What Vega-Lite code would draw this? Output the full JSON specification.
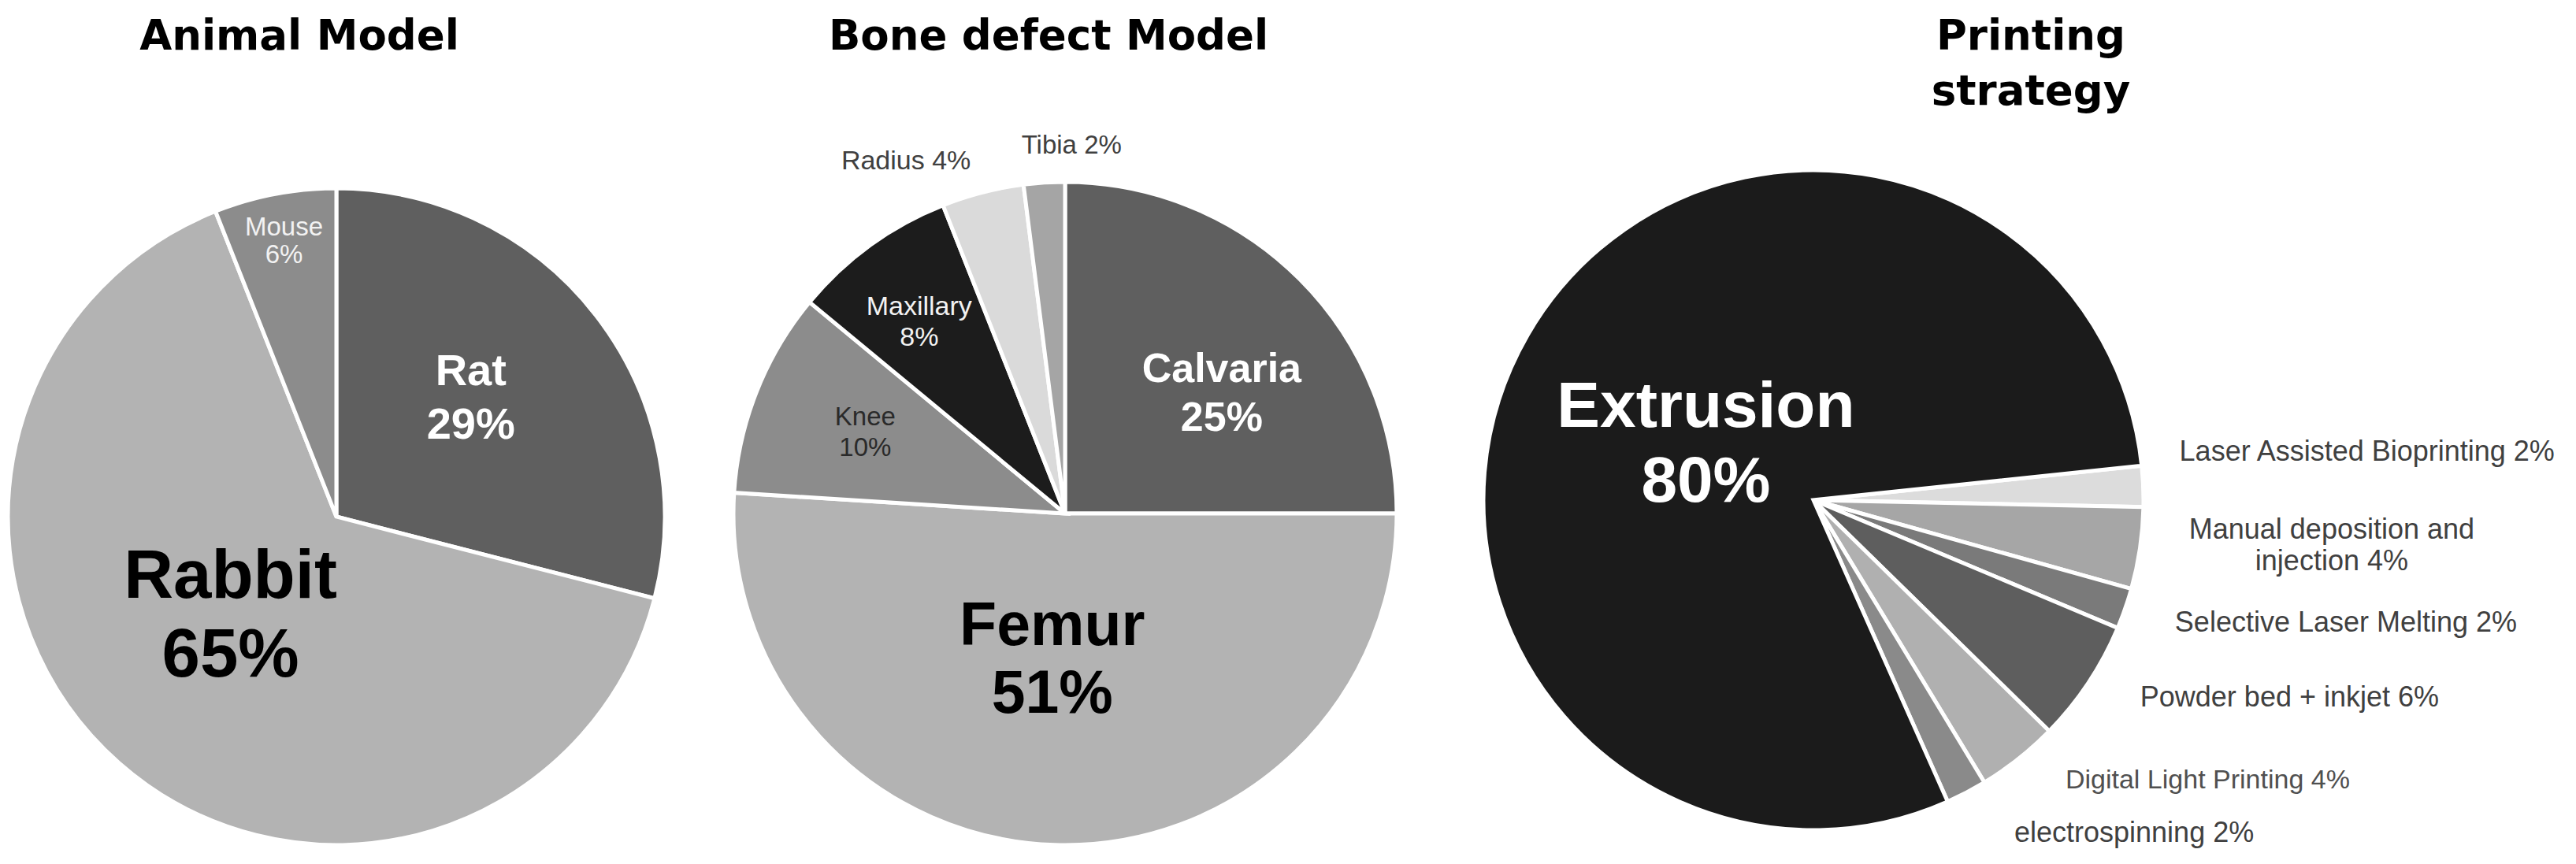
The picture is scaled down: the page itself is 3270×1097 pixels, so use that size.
{
  "$schema": "https://vega.github.io/schema/vega-lite/v6.json",
  "background": "white",
  "padding": {"top": 21, "left": 0, "right": 0, "bottom": 0},
  "spacing": 0,
  "bounds": "flush",
  "config": {"view": {"stroke": null}, "font": "Liberation Sans"},
  "resolve": {"scale": {"color": "independent", "theta": "independent"}},
  "hconcat": [
    {
      "width": 850, "height": 1008,
      "title": {"text": ["Animal Model", " "], "fontSize": 53, "font": "DejaVu Sans", "fontWeight": "bold", "color": "black", "anchor": "middle", "frame": "group", "dx": -47, "lineHeight": 70, "baseline": "alphabetic", "offset": -34},
      "data": {"values": [
        {"name": "Rat", "pct": 29, "ord": 1, "lab": "Rat\n29%"},
        {"name": "Rabbit", "pct": 65, "ord": 2, "lab": "Rabbit\n65%"},
        {"name": "Mouse", "pct": 6, "ord": 3, "lab": "Mouse\n6%"}
      ]},
      "encoding": {
        "theta": {"field": "pct", "type": "quantitative", "stack": true},
        "order": {"field": "ord", "type": "quantitative"}
      },
      "layer": [
        {"mark": {"type": "arc", "outerRadius": 417, "stroke": "white", "strokeWidth": 5},
         "encoding": {"color": {"field": "name", "type": "nominal", "legend": null,
           "scale": {"domain": ["Rat", "Rabbit", "Mouse"], "range": ["#5f5f5f", "#b3b3b3", "#8c8c8c"]}}}},
        {"mark": {"type": "text", "radius": 230, "dx": -11, "dy": -26, "fontSize": 56, "fontWeight": "bold", "color": "white", "align": "center", "baseline": "alphabetic", "lineBreak": "\n", "lineHeight": 68},
         "encoding": {"text": {"condition": {"test": "datum.name === 'Rat'", "field": "lab"}, "value": ""}}},
        {"mark": {"type": "text", "radius": 170, "dx": -22, "dy": -25, "fontSize": 87, "fontWeight": "bold", "color": "black", "align": "center", "baseline": "alphabetic", "lineBreak": "\n", "lineHeight": 100},
         "encoding": {"text": {"condition": {"test": "datum.name === 'Rabbit'", "field": "lab"}, "value": ""}}},
        {"mark": {"type": "text", "radius": 360, "dx": 1, "dy": -3, "fontSize": 33, "color": "#f2f2f2", "align": "center", "baseline": "alphabetic", "lineBreak": "\n", "lineHeight": 35},
         "encoding": {"text": {"condition": {"test": "datum.name === 'Mouse'", "field": "lab"}, "value": ""}}}
      ]
    },
    {
      "width": 1000, "height": 1000,
      "title": {"text": ["Bone defect Model", " "], "fontSize": 53, "font": "DejaVu Sans", "fontWeight": "bold", "color": "black", "anchor": "middle", "frame": "group", "dx": -21, "lineHeight": 70, "baseline": "alphabetic", "offset": -34},
      "data": {"values": [
        {"name": "Calvaria", "pct": 25, "ord": 1, "lab": "Calvaria\n25%"},
        {"name": "Femur", "pct": 51, "ord": 2, "lab": "Femur\n51%"},
        {"name": "Knee", "pct": 10, "ord": 3, "lab": "Knee\n10%"},
        {"name": "Maxillary", "pct": 8, "ord": 4, "lab": "Maxillary\n8%"},
        {"name": "Radius", "pct": 4, "ord": 5, "lab": "Radius 4%"},
        {"name": "Tibia", "pct": 2, "ord": 6, "lab": "Tibia 2%"}
      ]},
      "encoding": {
        "theta": {"field": "pct", "type": "quantitative", "stack": true},
        "order": {"field": "ord", "type": "quantitative"}
      },
      "layer": [
        {"mark": {"type": "arc", "outerRadius": 421, "stroke": "white", "strokeWidth": 5},
         "encoding": {"color": {"field": "name", "type": "nominal", "legend": null,
           "scale": {"domain": ["Calvaria", "Femur", "Knee", "Maxillary", "Radius", "Tibia"], "range": ["#5f5f5f", "#b3b3b3", "#8c8c8c", "#1c1c1c", "#dadada", "#a5a5a5"]}}}},
        {"mark": {"type": "text", "radius": 260, "dx": 15, "dy": 17, "fontSize": 52, "fontWeight": "bold", "color": "white", "align": "center", "baseline": "alphabetic", "lineBreak": "\n", "lineHeight": 62},
         "encoding": {"text": {"condition": {"test": "datum.name === 'Calvaria'", "field": "lab"}, "value": ""}}},
        {"mark": {"type": "text", "radius": 167, "dx": -11, "dy": 0, "fontSize": 77, "fontWeight": "bold", "color": "black", "align": "center", "baseline": "alphabetic", "lineBreak": "\n", "lineHeight": 86},
         "encoding": {"text": {"condition": {"test": "datum.name === 'Femur'", "field": "lab"}, "value": ""}}},
        {"mark": {"type": "text", "radius": 275, "dx": 2, "dy": -11, "fontSize": 33, "color": "#2a2a2a", "align": "center", "baseline": "alphabetic", "lineBreak": "\n", "lineHeight": 39},
         "encoding": {"text": {"condition": {"test": "datum.name === 'Knee'", "field": "lab"}, "value": ""}}},
        {"mark": {"type": "text", "radius": 310, "dx": -3, "dy": -1, "fontSize": 34, "color": "#f2f2f2", "align": "center", "baseline": "alphabetic", "lineBreak": "\n", "lineHeight": 39},
         "encoding": {"text": {"condition": {"test": "datum.name === 'Maxillary'", "field": "lab"}, "value": ""}}},
        {"mark": {"type": "text", "radius": 450, "dx": -90, "dy": -1, "fontSize": 34, "color": "#404040", "align": "center", "baseline": "alphabetic"},
         "encoding": {"text": {"condition": {"test": "datum.name === 'Radius'", "field": "lab"}, "value": ""}}},
        {"mark": {"type": "text", "radius": 458, "dx": 37, "dy": 0, "fontSize": 33, "color": "#404040", "align": "center", "baseline": "alphabetic"},
         "encoding": {"text": {"condition": {"test": "datum.name === 'Tibia'", "field": "lab"}, "value": ""}}}
      ]
    },
    {
      "width": 900, "height": 966,
      "title": {"text": ["Printing", "strategy"], "fontSize": 53, "font": "DejaVu Sans", "fontWeight": "bold", "color": "black", "anchor": "middle", "frame": "group", "dx": 276, "lineHeight": 70, "baseline": "alphabetic", "offset": -34},
      "data": {"values": [
        {"name": "Laser", "pct": 2, "ord": 1, "lab": "Laser Assisted Bioprinting 2%"},
        {"name": "Manual", "pct": 4, "ord": 2, "lab": "Manual  deposition and\ninjection 4%"},
        {"name": "Selective", "pct": 2, "ord": 3, "lab": "Selective Laser Melting 2%"},
        {"name": "Powder", "pct": 6, "ord": 4, "lab": "Powder bed + inkjet 6%"},
        {"name": "Digital", "pct": 4, "ord": 5, "lab": "Digital Light Printing 4%"},
        {"name": "Electro", "pct": 2, "ord": 6, "lab": "electrospinning 2%"},
        {"name": "Extrusion", "pct": 80, "ord": 7, "lab": "Extrusion\n80%"}
      ]},
      "encoding": {
        "theta": {"field": "pct", "type": "quantitative", "stack": true, "scale": {"range": [1.4661, 7.7493]}},
        "order": {"field": "ord", "type": "quantitative"}
      },
      "layer": [
        {"mark": {"type": "arc", "outerRadius": 419, "stroke": "white", "strokeWidth": 5},
         "encoding": {"color": {"field": "name", "type": "nominal", "legend": null,
           "scale": {"domain": ["Laser", "Manual", "Selective", "Powder", "Digital", "Electro", "Extrusion"], "range": ["#dcdcdc", "#a6a6a6", "#7a7a7a", "#5e5e5e", "#b0b0b0", "#8a8a8a", "#1b1b1b"]}}}},
        {"mark": {"type": "text", "radius": 160, "dx": 2, "dy": -13, "fontSize": 82, "fontWeight": "bold", "color": "white", "align": "center", "baseline": "alphabetic", "lineBreak": "\n", "lineHeight": 95},
         "encoding": {"text": {"condition": {"test": "datum.name === 'Extrusion'", "field": "lab"}, "value": ""}}},
        {"mark": {"type": "text", "radius": 465, "dx": 0, "dy": -31, "fontSize": 36, "color": "#404040", "align": "left", "baseline": "alphabetic"},
         "encoding": {"text": {"condition": {"test": "datum.name === 'Laser'", "field": "lab"}, "value": ""}}},
        {"mark": {"type": "text", "radius": 660, "dx": 5, "dy": -47, "fontSize": 36, "color": "#404040", "align": "center", "baseline": "alphabetic", "lineBreak": "\n", "lineHeight": 40},
         "encoding": {"text": {"condition": {"test": "datum.name === 'Manual'", "field": "lab"}, "value": ""}}},
        {"mark": {"type": "text", "radius": 470, "dx": 15, "dy": 12, "fontSize": 36, "color": "#404040", "align": "left", "baseline": "alphabetic"},
         "encoding": {"text": {"condition": {"test": "datum.name === 'Selective'", "field": "lab"}, "value": ""}}},
        {"mark": {"type": "text", "radius": 480, "dx": 15, "dy": -4, "fontSize": 36, "color": "#404040", "align": "left", "baseline": "alphabetic"},
         "encoding": {"text": {"condition": {"test": "datum.name === 'Powder'", "field": "lab"}, "value": ""}}},
        {"mark": {"type": "text", "radius": 470, "dx": 28, "dy": -2, "fontSize": 34, "color": "#505050", "align": "left", "baseline": "alphabetic"},
         "encoding": {"text": {"condition": {"test": "datum.name === 'Digital'", "field": "lab"}, "value": ""}}},
        {"mark": {"type": "text", "radius": 490, "dx": 28, "dy": 0, "fontSize": 36, "color": "#404040", "align": "left", "baseline": "alphabetic"},
         "encoding": {"text": {"condition": {"test": "datum.name === 'Electro'", "field": "lab"}, "value": ""}}}
      ]
    }
  ]
}
